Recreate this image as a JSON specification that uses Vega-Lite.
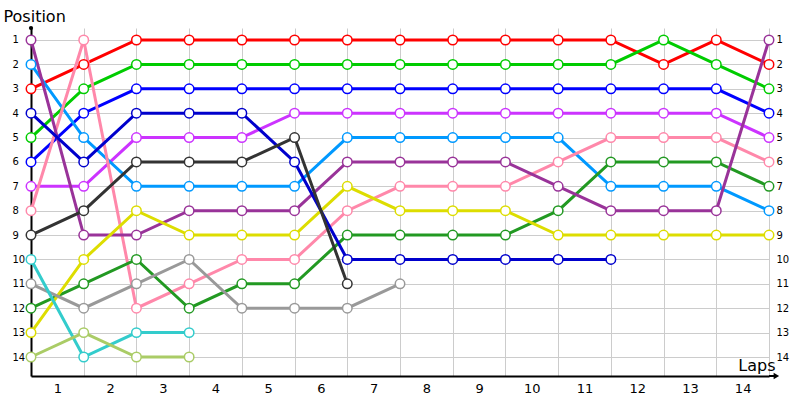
{
 "$schema": "https://vega.github.io/schema/vega-lite/v6.json",
 "width": 738, "height": 348,
 "autosize": {"type": "none"},
 "padding": {"left": 31, "top": 28, "right": 31, "bottom": 24},
 "background": "white",
 "config": {"view": {"stroke": null}, "axis": {"labelFont": "DejaVu Sans", "titleFont": "DejaVu Sans", "labelColor": "#000", "titleColor": "#000"}},
 "datasets": {
  "laps": [
   {"driver":"Red","lap":0,"pos":3},{"driver":"Red","lap":1,"pos":2},{"driver":"Red","lap":2,"pos":1},{"driver":"Red","lap":3,"pos":1},{"driver":"Red","lap":4,"pos":1},{"driver":"Red","lap":5,"pos":1},{"driver":"Red","lap":6,"pos":1},{"driver":"Red","lap":7,"pos":1},{"driver":"Red","lap":8,"pos":1},{"driver":"Red","lap":9,"pos":1},{"driver":"Red","lap":10,"pos":1},{"driver":"Red","lap":11,"pos":1},{"driver":"Red","lap":12,"pos":2},{"driver":"Red","lap":13,"pos":1},{"driver":"Red","lap":14,"pos":2},
   {"driver":"Green","lap":0,"pos":5},{"driver":"Green","lap":1,"pos":3},{"driver":"Green","lap":2,"pos":2},{"driver":"Green","lap":3,"pos":2},{"driver":"Green","lap":4,"pos":2},{"driver":"Green","lap":5,"pos":2},{"driver":"Green","lap":6,"pos":2},{"driver":"Green","lap":7,"pos":2},{"driver":"Green","lap":8,"pos":2},{"driver":"Green","lap":9,"pos":2},{"driver":"Green","lap":10,"pos":2},{"driver":"Green","lap":11,"pos":2},{"driver":"Green","lap":12,"pos":1},{"driver":"Green","lap":13,"pos":2},{"driver":"Green","lap":14,"pos":3},
   {"driver":"Blue","lap":0,"pos":6},{"driver":"Blue","lap":1,"pos":4},{"driver":"Blue","lap":2,"pos":3},{"driver":"Blue","lap":3,"pos":3},{"driver":"Blue","lap":4,"pos":3},{"driver":"Blue","lap":5,"pos":3},{"driver":"Blue","lap":6,"pos":3},{"driver":"Blue","lap":7,"pos":3},{"driver":"Blue","lap":8,"pos":3},{"driver":"Blue","lap":9,"pos":3},{"driver":"Blue","lap":10,"pos":3},{"driver":"Blue","lap":11,"pos":3},{"driver":"Blue","lap":12,"pos":3},{"driver":"Blue","lap":13,"pos":3},{"driver":"Blue","lap":14,"pos":4},
   {"driver":"Violet","lap":0,"pos":7},{"driver":"Violet","lap":1,"pos":7},{"driver":"Violet","lap":2,"pos":5},{"driver":"Violet","lap":3,"pos":5},{"driver":"Violet","lap":4,"pos":5},{"driver":"Violet","lap":5,"pos":4},{"driver":"Violet","lap":6,"pos":4},{"driver":"Violet","lap":7,"pos":4},{"driver":"Violet","lap":8,"pos":4},{"driver":"Violet","lap":9,"pos":4},{"driver":"Violet","lap":10,"pos":4},{"driver":"Violet","lap":11,"pos":4},{"driver":"Violet","lap":12,"pos":4},{"driver":"Violet","lap":13,"pos":4},{"driver":"Violet","lap":14,"pos":5},
   {"driver":"Sky","lap":0,"pos":2},{"driver":"Sky","lap":1,"pos":5},{"driver":"Sky","lap":2,"pos":7},{"driver":"Sky","lap":3,"pos":7},{"driver":"Sky","lap":4,"pos":7},{"driver":"Sky","lap":5,"pos":7},{"driver":"Sky","lap":6,"pos":5},{"driver":"Sky","lap":7,"pos":5},{"driver":"Sky","lap":8,"pos":5},{"driver":"Sky","lap":9,"pos":5},{"driver":"Sky","lap":10,"pos":5},{"driver":"Sky","lap":11,"pos":7},{"driver":"Sky","lap":12,"pos":7},{"driver":"Sky","lap":13,"pos":7},{"driver":"Sky","lap":14,"pos":8},
   {"driver":"Pink","lap":0,"pos":8},{"driver":"Pink","lap":1,"pos":1},{"driver":"Pink","lap":2,"pos":12},{"driver":"Pink","lap":3,"pos":11},{"driver":"Pink","lap":4,"pos":10},{"driver":"Pink","lap":5,"pos":10},{"driver":"Pink","lap":6,"pos":8},{"driver":"Pink","lap":7,"pos":7},{"driver":"Pink","lap":8,"pos":7},{"driver":"Pink","lap":9,"pos":7},{"driver":"Pink","lap":10,"pos":6},{"driver":"Pink","lap":11,"pos":5},{"driver":"Pink","lap":12,"pos":5},{"driver":"Pink","lap":13,"pos":5},{"driver":"Pink","lap":14,"pos":6},
   {"driver":"Forest","lap":0,"pos":12},{"driver":"Forest","lap":1,"pos":11},{"driver":"Forest","lap":2,"pos":10},{"driver":"Forest","lap":3,"pos":12},{"driver":"Forest","lap":4,"pos":11},{"driver":"Forest","lap":5,"pos":11},{"driver":"Forest","lap":6,"pos":9},{"driver":"Forest","lap":7,"pos":9},{"driver":"Forest","lap":8,"pos":9},{"driver":"Forest","lap":9,"pos":9},{"driver":"Forest","lap":10,"pos":8},{"driver":"Forest","lap":11,"pos":6},{"driver":"Forest","lap":12,"pos":6},{"driver":"Forest","lap":13,"pos":6},{"driver":"Forest","lap":14,"pos":7},
   {"driver":"Purple","lap":0,"pos":1},{"driver":"Purple","lap":1,"pos":9},{"driver":"Purple","lap":2,"pos":9},{"driver":"Purple","lap":3,"pos":8},{"driver":"Purple","lap":4,"pos":8},{"driver":"Purple","lap":5,"pos":8},{"driver":"Purple","lap":6,"pos":6},{"driver":"Purple","lap":7,"pos":6},{"driver":"Purple","lap":8,"pos":6},{"driver":"Purple","lap":9,"pos":6},{"driver":"Purple","lap":10,"pos":7},{"driver":"Purple","lap":11,"pos":8},{"driver":"Purple","lap":12,"pos":8},{"driver":"Purple","lap":13,"pos":8},{"driver":"Purple","lap":14,"pos":1},
   {"driver":"Yellow","lap":0,"pos":13},{"driver":"Yellow","lap":1,"pos":10},{"driver":"Yellow","lap":2,"pos":8},{"driver":"Yellow","lap":3,"pos":9},{"driver":"Yellow","lap":4,"pos":9},{"driver":"Yellow","lap":5,"pos":9},{"driver":"Yellow","lap":6,"pos":7},{"driver":"Yellow","lap":7,"pos":8},{"driver":"Yellow","lap":8,"pos":8},{"driver":"Yellow","lap":9,"pos":8},{"driver":"Yellow","lap":10,"pos":9},{"driver":"Yellow","lap":11,"pos":9},{"driver":"Yellow","lap":12,"pos":9},{"driver":"Yellow","lap":13,"pos":9},{"driver":"Yellow","lap":14,"pos":9},
   {"driver":"Navy","lap":0,"pos":4},{"driver":"Navy","lap":1,"pos":6},{"driver":"Navy","lap":2,"pos":4},{"driver":"Navy","lap":3,"pos":4},{"driver":"Navy","lap":4,"pos":4},{"driver":"Navy","lap":5,"pos":6},{"driver":"Navy","lap":6,"pos":10},{"driver":"Navy","lap":7,"pos":10},{"driver":"Navy","lap":8,"pos":10},{"driver":"Navy","lap":9,"pos":10},{"driver":"Navy","lap":10,"pos":10},{"driver":"Navy","lap":11,"pos":10},
   {"driver":"Black","lap":0,"pos":9},{"driver":"Black","lap":1,"pos":8},{"driver":"Black","lap":2,"pos":6},{"driver":"Black","lap":3,"pos":6},{"driver":"Black","lap":4,"pos":6},{"driver":"Black","lap":5,"pos":5},{"driver":"Black","lap":6,"pos":11},
   {"driver":"Gray","lap":0,"pos":11},{"driver":"Gray","lap":1,"pos":12},{"driver":"Gray","lap":2,"pos":11},{"driver":"Gray","lap":3,"pos":10},{"driver":"Gray","lap":4,"pos":12},{"driver":"Gray","lap":5,"pos":12},{"driver":"Gray","lap":6,"pos":12},{"driver":"Gray","lap":7,"pos":11},
   {"driver":"Cyan","lap":0,"pos":10},{"driver":"Cyan","lap":1,"pos":14},{"driver":"Cyan","lap":2,"pos":13},{"driver":"Cyan","lap":3,"pos":13},
   {"driver":"Lime","lap":0,"pos":14},{"driver":"Lime","lap":1,"pos":13},{"driver":"Lime","lap":2,"pos":14},{"driver":"Lime","lap":3,"pos":14}
  ]
 },
 "data": {"name": "laps"},
 "layer": [
  {
   "mark": {"type": "line", "strokeWidth": 3},
   "encoding": {
    "x": {"field": "lap", "type": "quantitative", "scale": {"domain": [0, 14], "nice": false, "zero": false},
     "axis": {"values": [0,1,2,3,4,5,6,7,8,9,10,11,12,13,14], "labelExpr": "datum.value < 14 ? datum.value + 1 : ''", "labelOffset": 26.35, "labelFlush": false, "labelOverlap": false, "ticks": false, "labelPadding": 6, "labelFontSize": 13, "grid": true, "gridColor": "#cccccc", "domainColor": "#000000", "domainWidth": 2, "title": "Laps", "titleX": 744, "titleY": -6, "titleAlign": "right", "titleBaseline": "alphabetic", "titleAnchor": null, "titleFontSize": 16, "titleFontWeight": "normal"}},
    "y": {"field": "pos", "type": "quantitative", "scale": {"domain": [0.508, 14.779], "reverse": true, "nice": false, "zero": false},
     "axis": {"values": [1,2,3,4,5,6,7,8,9,10,11,12,13,14], "ticks": false, "labelAlign": "left", "labelPadding": 19, "labelFontSize": 10, "labelFlush": false, "labelOverlap": false, "grid": true, "gridColor": "#cccccc", "domainColor": "#000000", "domainWidth": 2, "title": "Position", "titleAngle": 0, "titleX": -28, "titleY": -7, "titleAlign": "left", "titleBaseline": "alphabetic", "titleAnchor": null, "titleFontSize": 16, "titleFontWeight": "normal"}},
    "color": {"field": "driver", "type": "nominal", "legend": null,
     "scale": {"domain": ["Red","Green","Blue","Violet","Sky","Pink","Forest","Purple","Yellow","Navy","Black","Gray","Cyan","Lime"],
      "range": ["#ff0000","#00cc00","#0000ff","#cc33ff","#0099ff","#ff88aa","#229922","#993399","#dddd00","#0000cc","#333333","#999999","#33cccc","#aacc66"]}}
   }
  },
  {
   "mark": {"type": "circle", "fill": "white", "fillOpacity": 1, "opacity": 1, "size": 90, "strokeWidth": 1.5},
   "encoding": {
    "x": {"field": "lap", "type": "quantitative", "axis": null},
    "y": {"field": "pos", "type": "quantitative",
     "axis": {"orient": "right", "values": [1,2,3,4,5,6,7,8,9,10,11,12,13,14], "ticks": false, "domain": false, "grid": false, "labelPadding": 7, "labelAlign": "left", "labelFontSize": 10, "labelFlush": false, "labelOverlap": false, "title": null}},
    "stroke": {"field": "driver", "type": "nominal", "legend": null,
     "scale": {"domain": ["Red","Green","Blue","Violet","Sky","Pink","Forest","Purple","Yellow","Navy","Black","Gray","Cyan","Lime"],
      "range": ["#ff0000","#00cc00","#0000ff","#cc33ff","#0099ff","#ff88aa","#229922","#993399","#dddd00","#0000cc","#333333","#999999","#33cccc","#aacc66"]}}
   }
  },
  {
   "data": {"values": [{}]},
   "mark": {"type": "rule", "color": "#000000", "strokeWidth": 2},
   "encoding": {"x": {"datum": 14, "type": "quantitative", "axis": null}, "x2": {"datum": 14.13}, "y": {"datum": 14.779, "type": "quantitative", "axis": null}}
  },
  {
   "data": {"values": [{}]},
   "mark": {"type": "point", "shape": "triangle-right", "filled": true, "color": "#000000", "size": 40, "opacity": 1},
   "encoding": {"x": {"datum": 14.14, "type": "quantitative", "axis": null}, "y": {"datum": 14.779, "type": "quantitative", "axis": null}}
  },
  {
   "data": {"values": [{}]},
   "mark": {"type": "circle", "color": "#000000", "size": 18, "opacity": 1},
   "encoding": {"x": {"datum": 0, "type": "quantitative", "axis": null}, "y": {"datum": 0.508, "type": "quantitative", "axis": null}}
  }
 ],
 "resolve": {"axis": {"x": "independent", "y": "independent"}}
}
